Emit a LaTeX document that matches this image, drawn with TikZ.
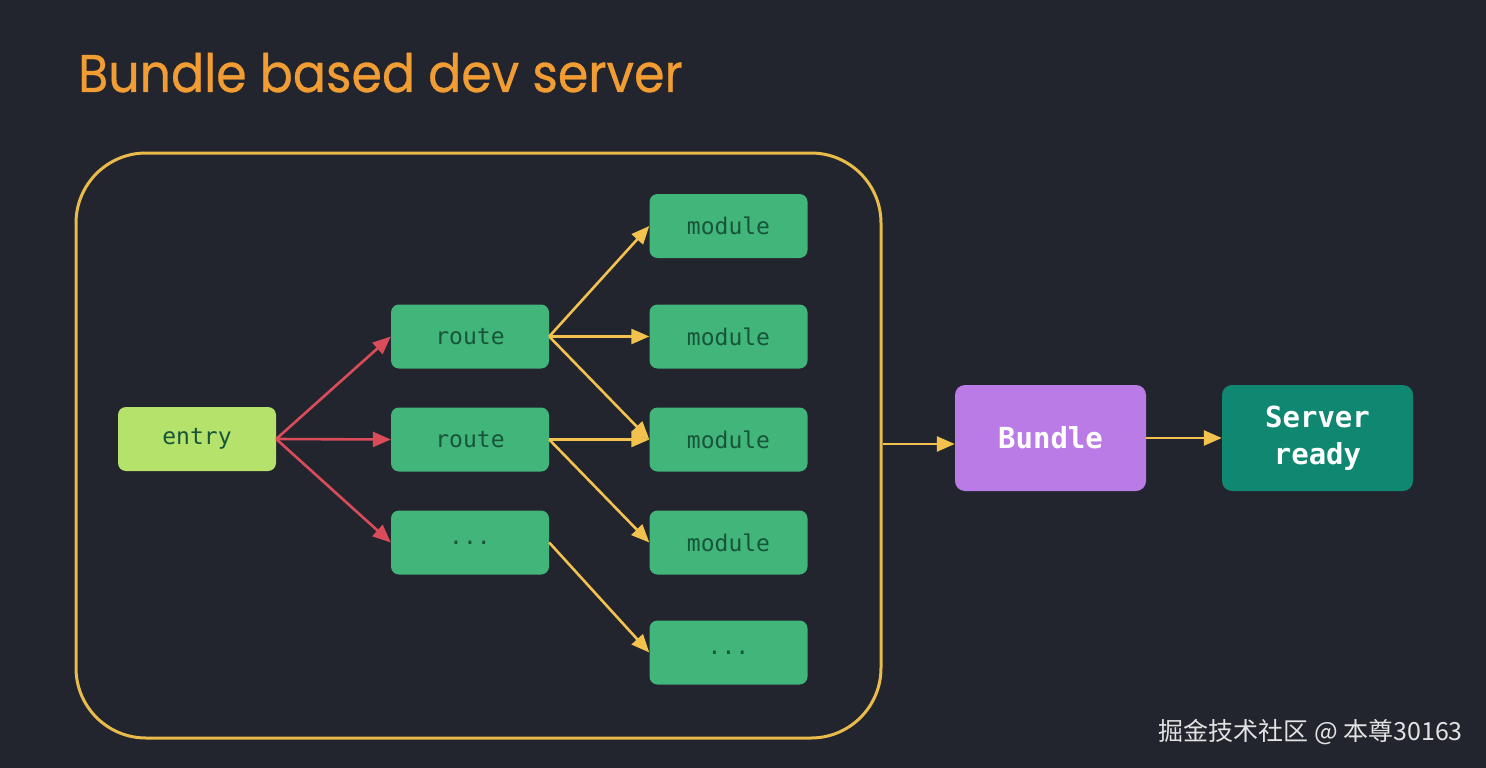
\documentclass[tikz,border=0pt]{standalone}
\usepackage{fontspec}
\setmainfont{Poppins}
\setmonofont{DejaVu Sans Mono}
\newfontfamily\cjkfont{Noto Sans CJK SC}
\newfontfamily\titlefont[FakeBold=0.6]{Poppins}
\usetikzlibrary{arrows.meta}
\definecolor{bg}{HTML}{22252E}
\definecolor{titleor}{HTML}{F29D33}
\definecolor{frameyl}{HTML}{E8BB4A}
\definecolor{arrowyl}{HTML}{F2C14E}
\definecolor{arrowrd}{HTML}{DB4C5B}
\definecolor{modgreen}{HTML}{41B57A}
\definecolor{entrygreen}{HTML}{B5E26A}
\definecolor{textgreen}{HTML}{17553A}
\definecolor{bundlepurple}{HTML}{BB7BE6}
\definecolor{serverteal}{HTML}{108770}
\definecolor{wmgrey}{HTML}{E2E2E2}
\tikzset{
  box/.style={rounded corners=8pt, minimum width=158pt, minimum height=64pt, inner sep=0pt,
    font=\fontsize{23pt}{26pt}\selectfont\ttfamily, text=textgreen},
  modbox/.style={box, fill=modgreen},
  entrybox/.style={box, fill=entrygreen},
  bigbox/.style={rounded corners=10pt, minimum width=191pt, minimum height=106pt, inner sep=0pt,
    font=\fontsize{29pt}{37pt}\selectfont\ttfamily\bfseries, text=white, align=center},
  redarrow/.style={draw=arrowrd, line width=2.6pt, -{Triangle[length=18pt,width=15pt]}},
  ylarrow/.style={draw=arrowyl, line width=2.6pt, -{Triangle[length=18pt,width=15pt]}},
}
\begin{document}
\begin{tikzpicture}[x=1pt,y=-1pt]
\fill[bg] (0,0) rectangle (1486,768);
\useasboundingbox (0,0) rectangle (1486,768);
\node[anchor=base west, inner sep=0pt, text=titleor, font=\fontsize{53pt}{60pt}\selectfont\titlefont] (title) at (78,92) {\scalebox{0.925}[1]{Bundle based dev server}};
\node[draw=frameyl, line width=3pt, rounded corners=70pt, minimum width=805pt, minimum height=585pt, inner sep=0pt] (frame) at (478.5,445.5) {};
\node[entrybox] (entry) at (197,439) {entry};
\node[modbox] (r1) at (470,336.5) {route};
\node[modbox] (r2) at (470,439.5) {route};
\node[modbox] (r3) at (470,542.5) {...};
\node[modbox] (m1) at (728.5,226) {module};
\node[modbox] (m2) at (728.5,336.5) {module};
\node[modbox] (m3) at (728.5,439.5) {module};
\node[modbox] (m4) at (728.5,542.5) {module};
\node[modbox] (m5) at (728.5,652.5) {...};
\node[bigbox, fill=bundlepurple] (bundle) at (1050.5,438) {Bundle};
\node[bigbox, fill=serverteal] (server) at (1317.5,438) {Server\\ready};
\draw[redarrow] (entry.east) -- (r1.west);
\draw[redarrow] (entry.east) -- (r2.west);
\draw[redarrow] (entry.east) -- (r3.west);
\draw[ylarrow] (r1.east) -- (m1.west);
\draw[ylarrow] (r1.east) -- (m2.west);
\draw[ylarrow] (r1.east) -- (m3.west);
\draw[ylarrow] (r2.east) -- (m3.west);
\draw[ylarrow] (r2.east) -- (m4.west);
\draw[ylarrow] (r3.east) -- (m5.west);
\draw[ylarrow] (frame.east |- 0,444) coordinate (fe) -- (bundle.west |- fe);
\draw[ylarrow] (bundle.east) -- (server.west);
\node[anchor=east, inner sep=0pt, text=wmgrey, font=\fontsize{25pt}{28pt}\selectfont\cjkfont] (wm) at (1463,732) {掘金技术社区 @ 本尊30163};
\end{tikzpicture}
\end{document}
